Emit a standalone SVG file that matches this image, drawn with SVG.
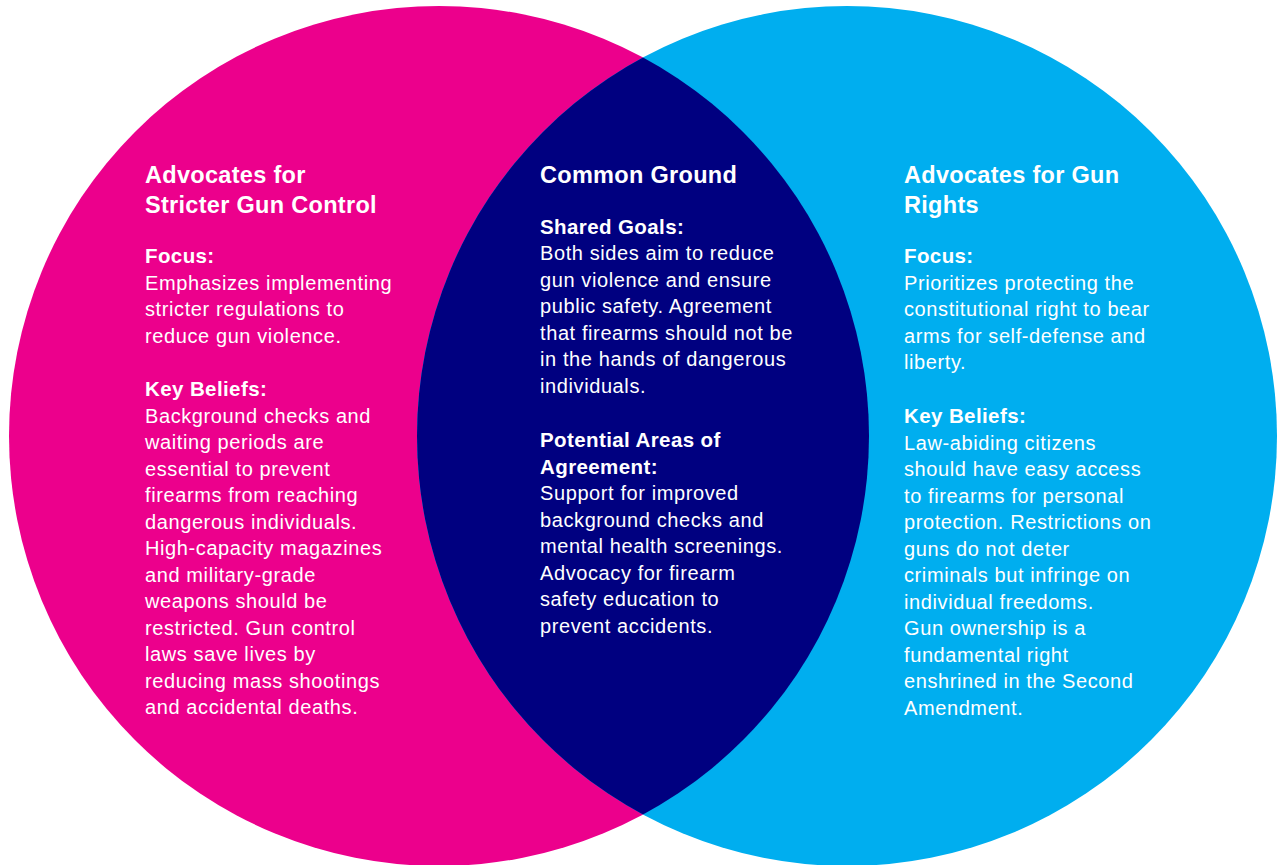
<svg xmlns="http://www.w3.org/2000/svg" width="1278" height="865" viewBox="0 0 1278 865">
<defs>
<clipPath id="clipLeft"><circle cx="439" cy="436" r="430"/></clipPath>
</defs>
<style>
text{font-family:"Liberation Sans",Arial,Helvetica,sans-serif;fill:#ffffff}
.h{font-size:23.5px;font-weight:bold;letter-spacing:0.3px}
.s{font-size:20.5px;font-weight:bold;letter-spacing:0.4px}
.b{font-size:20px;font-weight:normal;letter-spacing:0.6px}
</style>
<rect x="0" y="0" width="1278" height="865" fill="#ffffff"/>
<g id="left-circle">
<circle cx="439" cy="436" r="430" fill="#EC008C"/>
</g>
<g id="right-circle">
<circle cx="847" cy="436" r="430" fill="#00AEEF"/>
</g>
<g id="overlap">
<circle cx="847" cy="436" r="430" fill="#000080" clip-path="url(#clipLeft)"/>
</g>
<g id="connectors"/>
<g id="left-text">
<text class="h"><tspan x="145" y="183">Advocates for</tspan><tspan x="145" y="213">Stricter Gun Control</tspan></text>
<text class="s" x="145" y="263">Focus:</text>
<text class="b"><tspan x="145" y="289.5">Emphasizes implementing</tspan><tspan x="145" y="316">stricter regulations to</tspan><tspan x="145" y="342.5">reduce gun violence.</tspan></text>
<text class="s" x="145" y="396">Key Beliefs:</text>
<text class="b"><tspan x="145" y="422.5">Background checks and</tspan><tspan x="145" y="449">waiting periods are</tspan><tspan x="145" y="475.5">essential to prevent</tspan><tspan x="145" y="502">firearms from reaching</tspan><tspan x="145" y="528.5">dangerous individuals.</tspan><tspan x="145" y="555">High-capacity magazines</tspan><tspan x="145" y="581.5">and military-grade</tspan><tspan x="145" y="608">weapons should be</tspan><tspan x="145" y="634.5">restricted. Gun control</tspan><tspan x="145" y="661">laws save lives by</tspan><tspan x="145" y="687.5">reducing mass shootings</tspan><tspan x="145" y="714">and accidental deaths.</tspan></text>
</g>
<g id="center-text">
<text class="h" x="540" y="183">Common Ground</text>
<text class="s" x="540" y="233.5">Shared Goals:</text>
<text class="b"><tspan x="540" y="260">Both sides aim to reduce</tspan><tspan x="540" y="286.5">gun violence and ensure</tspan><tspan x="540" y="313">public safety. Agreement</tspan><tspan x="540" y="339.5">that firearms should not be</tspan><tspan x="540" y="366">in the hands of dangerous</tspan><tspan x="540" y="392.5">individuals.</tspan></text>
<text class="s"><tspan x="540" y="447">Potential Areas of</tspan><tspan x="540" y="473.5">Agreement:</tspan></text>
<text class="b"><tspan x="540" y="500">Support for improved</tspan><tspan x="540" y="526.5">background checks and</tspan><tspan x="540" y="553">mental health screenings.</tspan><tspan x="540" y="579.5">Advocacy for firearm</tspan><tspan x="540" y="606">safety education to</tspan><tspan x="540" y="632.5">prevent accidents.</tspan></text>
</g>
<g id="right-text">
<text class="h"><tspan x="904" y="183">Advocates for Gun</tspan><tspan x="904" y="213">Rights</tspan></text>
<text class="s" x="904" y="263">Focus:</text>
<text class="b"><tspan x="904" y="289.5">Prioritizes protecting the</tspan><tspan x="904" y="316">constitutional right to bear</tspan><tspan x="904" y="342.5">arms for self-defense and</tspan><tspan x="904" y="369">liberty.</tspan></text>
<text class="s" x="904" y="423">Key Beliefs:</text>
<text class="b"><tspan x="904" y="449.5">Law-abiding citizens</tspan><tspan x="904" y="476">should have easy access</tspan><tspan x="904" y="502.5">to firearms for personal</tspan><tspan x="904" y="529">protection. Restrictions on</tspan><tspan x="904" y="555.5">guns do not deter</tspan><tspan x="904" y="582">criminals but infringe on</tspan><tspan x="904" y="608.5">individual freedoms.</tspan><tspan x="904" y="635">Gun ownership is a</tspan><tspan x="904" y="661.5">fundamental right</tspan><tspan x="904" y="688">enshrined in the Second</tspan><tspan x="904" y="714.5">Amendment.</tspan></text>
</g>
</svg>
